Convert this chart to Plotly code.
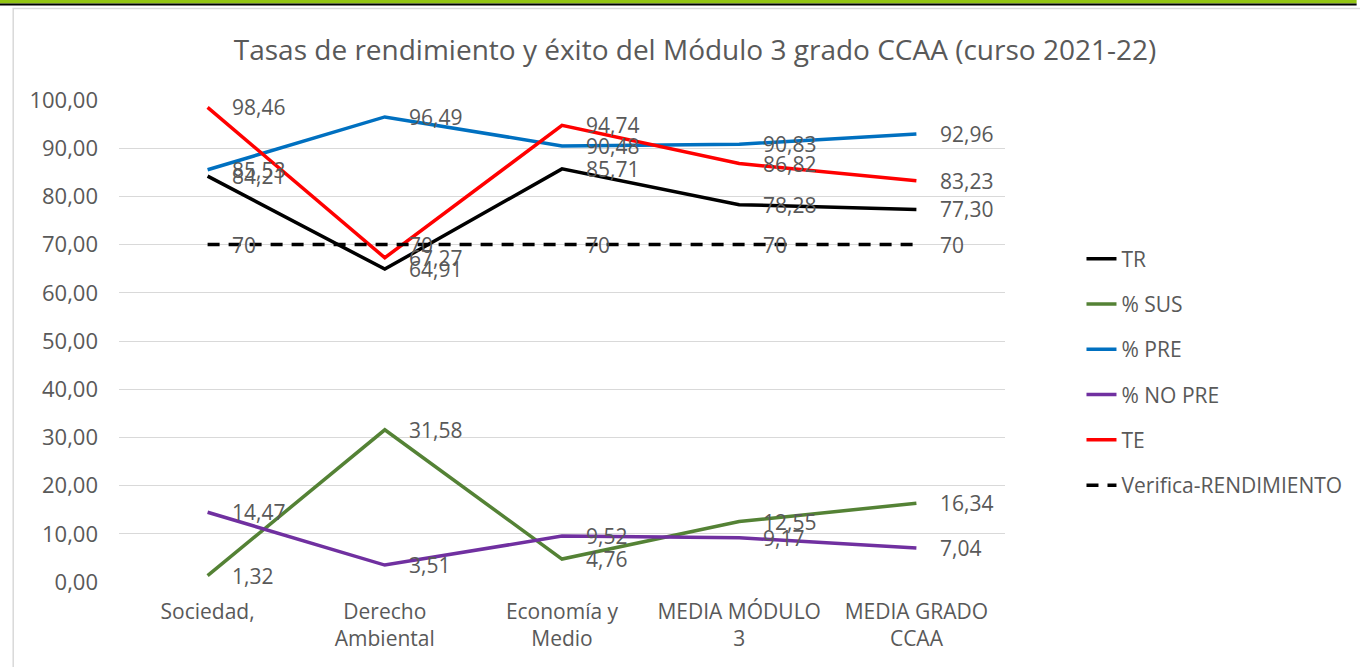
import plotly.graph_objects as go

# categories (x axis)
categories = ["Sociedad,", "Derecho<br>Ambiental", "Economía y<br>Medio",
              "MEDIA MÓDULO<br>3", "MEDIA GRADO<br>CCAA"]

# series values
tr = [84.21, 64.91, 85.71, 78.28, 77.30]
sus = [1.32, 31.58, 4.76, 12.55, 16.34]
pre = [85.53, 96.49, 90.48, 90.83, 92.96]
no_pre = [14.47, 3.51, 9.52, 9.17, 7.04]
te = [98.46, 67.27, 94.74, 86.82, 83.23]
verifica = [70, 70, 70, 70, 70]

y_ticks = [0, 10, 20, 30, 40, 50, 60, 70, 80, 90, 100]

FONT = "Open Sans"
GREY = "#595959"

series = [
    ("TR", tr, "#000000", "solid", "{:.2f}"),
    ("% SUS", sus, "#548235", "solid", "{:.2f}"),
    ("% PRE", pre, "#0070C0", "solid", "{:.2f}"),
    ("% NO PRE", no_pre, "#7030A0", "solid", "{:.2f}"),
    ("TE", te, "#FF0000", "solid", "{:.2f}"),
    ("Verifica-RENDIMIENTO", verifica, "#000000", "12px,9px", "{:.0f}"),
]

fig = go.Figure()
annotations = []
for i, (name, vals, col, dash, fmt) in enumerate(series):
    fig.add_trace(go.Scatter(
        x=categories, y=vals, name=name, mode="lines",
        line=dict(color=col, width=3.5, dash=dash),
        legendgroup=f"g{i}"))
    for c, v in zip(categories, vals):
        annotations.append(dict(
            x=c, y=v, xref="x", yref="y", text=fmt.format(v).replace(".", ","),
            showarrow=False, xanchor="left", yanchor="middle", xshift=22,
            font=dict(family=FONT, size=21, color=GREY)))

# page decoration: green band + black rule on top, light chart border
H_PLOT = 482.0
def py(px):
    return (582 - px) / H_PLOT
def pxr(px):
    return (px - 119) / 892.0

shapes = [
    dict(type="rect", xref="paper", yref="paper", x0=pxr(-5), x1=pxr(1365),
         y0=py(3.5), y1=py(-3), fillcolor="#92C512", line_width=0, layer="above"),
    dict(type="rect", xref="paper", yref="paper", x0=pxr(-5), x1=pxr(1365),
         y0=py(5.5), y1=py(3.5), fillcolor="#000000", line_width=0, layer="above"),
    dict(type="rect", xref="paper", yref="paper", x0=pxr(12.5), x1=pxr(1370),
         y0=py(680), y1=py(8.5), fillcolor="rgba(0,0,0,0)",
         line=dict(color="#D9D9D9", width=1.5), layer="below"),
]

fig.update_layout(
    width=1360, height=667,
    margin=dict(l=119, r=349, t=100, b=85),
    paper_bgcolor="white", plot_bgcolor="white",
    separators=",.",
    font=dict(family=FONT, color=GREY, size=21),
    title=dict(text="Tasas de rendimiento y éxito del Módulo 3 grado CCAA (curso 2021-22)",
               x=695 / 1360, xanchor="center", y=1 - 50 / 667, yanchor="middle",
               font=dict(family=FONT, size=28, color=GREY)),
    showlegend=True,
    legend=dict(x=pxr(1088), xanchor="left", y=py(372), yanchor="middle",
                traceorder="grouped", tracegroupgap=15,
                font=dict(family=FONT, size=21, color=GREY),
                bgcolor="rgba(0,0,0,0)"),
    annotations=annotations,
    shapes=shapes,
)
fig.update_xaxes(range=[-0.5, 4.5], showgrid=False, showline=False,
                 zeroline=False, ticks="", ticklabelstandoff=15,
                 tickfont=dict(family=FONT, size=21, color=GREY))
fig.update_yaxes(range=[0, 100], tickvals=y_ticks, tickformat=".2f",
                 showgrid=True, gridcolor="#D9D9D9", gridwidth=1.3,
                 zeroline=False, showline=False, ticks="",
                 ticklabelstandoff=20,
                 tickfont=dict(family=FONT, size=22, color=GREY))

fig.write_html("out.html", config={"displayModeBar": False},
               post_script="document.body.style.margin='0';")
